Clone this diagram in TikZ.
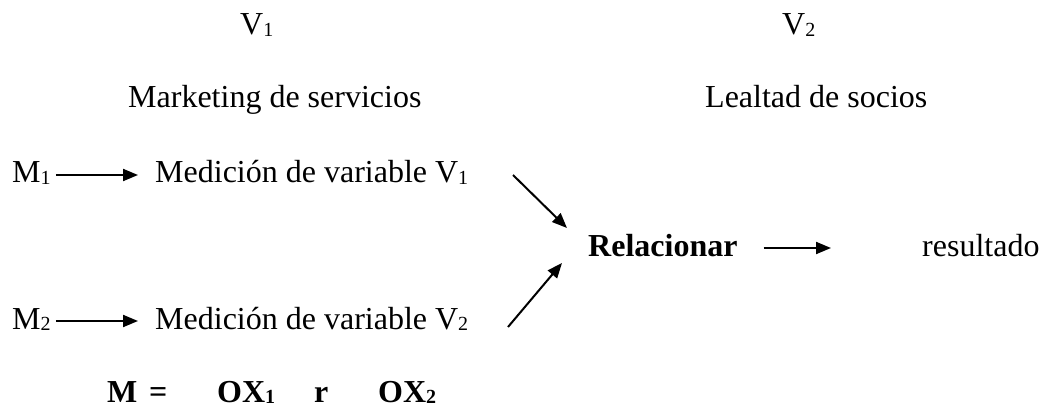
\documentclass[tikz,border=0pt]{standalone}
\usepackage{fontspec}
\setmainfont{Liberation Serif}
\usetikzlibrary{arrows.meta}
\newcommand{\sbs}[1]{\raisebox{-0.05em}{\fontsize{20}{20}\selectfont #1}}
\tikzset{
  txt/.style={anchor=base west, inner sep=0pt, font=\fontsize{32}{38}\selectfont},
  btxt/.style={txt, font=\fontsize{32}{38}\selectfont\bfseries},
  arr/.style={-{Triangle[length=15pt,width=12pt]}, line width=2pt},
}
\begin{document}
\begin{tikzpicture}[x=1pt,y=-1pt]
\useasboundingbox (0,0) rectangle (1045,409);
\node[txt] (v1) at (240,35) {V\sbs{1}};
\node[txt] (v2) at (782,35) {V\sbs{2}};
\node[txt] (mk) at (128,108) {Marketing de servicios};
\node[txt] (ls) at (705,108) {Lealtad de socios};
\node[txt] (m1) at (12,183) {M\sbs{1}};
\node[txt] (med1) at (155,183) {Medición de variable V\sbs{1}};
\node[txt] (m2) at (12,329) {M\sbs{2}};
\node[txt] (med2) at (155,329) {Medición de variable V\sbs{2}};
\node[btxt] (rel) at (588,256) {Relacionar};
\node[txt] (res) at (922,256) {resultado};
\node[btxt] (eqm) at (107,402) {M};
\node[btxt] (eqs) at (149,402) {=};
\node[btxt] (ox1) at (217,402) {OX\sbs{1}};
\node[btxt] (eqr) at (314,402) {r};
\node[btxt] (ox2) at (378,402) {OX\sbs{2}};
\coordinate (a1s) at (513,175);
\coordinate (a1e) at (567,228);
\coordinate (a2s) at (508,327);
\coordinate (a2e) at (562,263);
\draw[arr] ([xshift=5pt,yshift=8pt]m1.base east) -- ([xshift=-17pt,yshift=8pt]med1.base west);
\draw[arr] ([xshift=5pt,yshift=8pt]m2.base east) -- ([xshift=-17pt,yshift=8pt]med2.base west);
\draw[arr] (a1s) -- (a1e);
\draw[arr] (a2s) -- (a2e);
\draw[arr] ([xshift=26pt,yshift=8pt]rel.base east) -- ([xshift=-91pt,yshift=8pt]res.base west);
\end{tikzpicture}
\end{document}
